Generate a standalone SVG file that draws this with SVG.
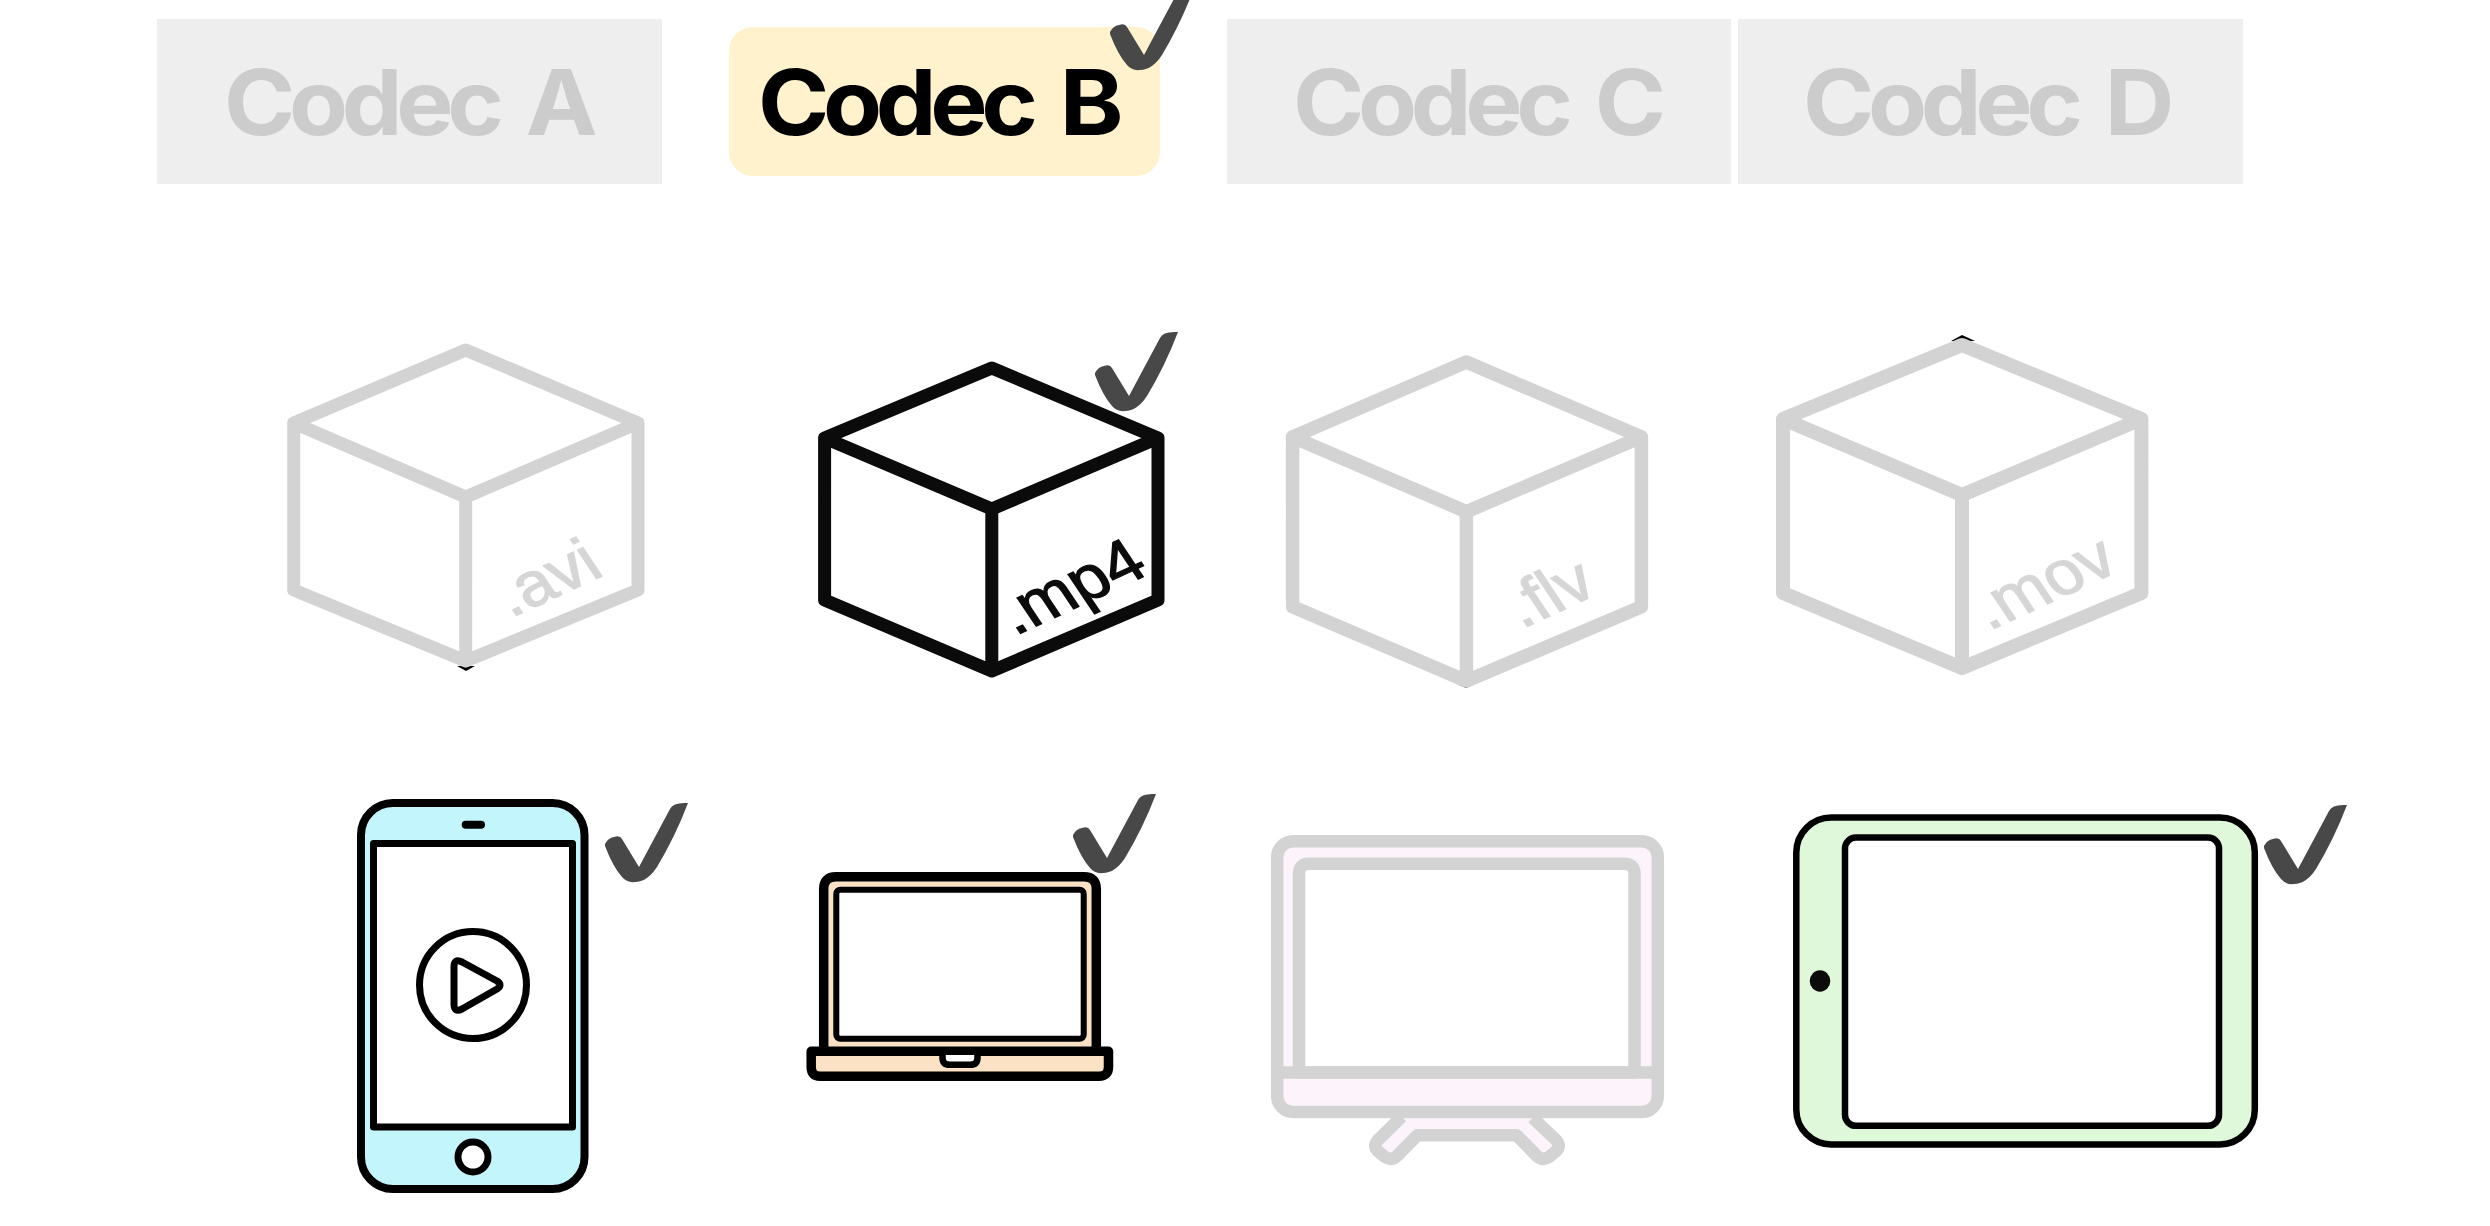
<svg xmlns="http://www.w3.org/2000/svg" xmlns:xlink="http://www.w3.org/1999/xlink" width="2490" height="1226" viewBox="0 0 2490 1226">
<style>
.bg{fill:#fff}
.tab{fill:#eeeeee}
.tl{font-family:"Inter","Liberation Sans",sans-serif;font-weight:700;font-size:91px;fill:#cccccc;letter-spacing:-6px;word-spacing:11px}
.tla{fill:#000}
.ck{fill:#484848}
.cube{fill:none;stroke-linejoin:round;stroke-linecap:round}
.off{stroke:#d3d3d3}
.on{stroke:#0b0b0b}
.ext{font-family:"Liberation Sans",Arial,sans-serif;font-size:60px;stroke-width:1.2}
.extg{fill:#d6d6d6;stroke:#d6d6d6}
.extk{fill:#0b0b0b;stroke:#0b0b0b}
.tip{fill:#000}
.k{stroke:#000;stroke-linejoin:round}
.g{stroke:#d3d3d3;stroke-linejoin:round}
</style>
<defs>
<path id="check" class="ck" d="M0,42 Q3,36 9,35 Q15,33 17,37 L34,65 Q50,35 65,7 Q68,0 83,1 Q70,35 52,65 Q42,80 30,80 Q22,81 17,75 Q8,65 0,44 Z"/>
</defs>
<rect class="bg" width="2490" height="1226"/>

<g id="tab-a"><rect class="tab" x="157" y="19" width="505" height="165"/><text class="tl" transform="translate(224 135) scale(1.06 1)">Codec A</text></g>
<g id="tab-b"><rect x="729" y="27" width="431" height="149" rx="24" fill="#fff2cc"/><text class="tl tla" transform="translate(758 135) scale(1.06 1)">Codec B</text><use xlink:href="#check" href="#check" x="1110" y="-10"/></g>
<g id="tab-c"><rect class="tab" x="1227" y="19" width="504" height="165"/><text class="tl" transform="translate(1293 135) scale(1.06 1)">Codec C</text></g>
<g id="tab-d"><rect class="tab" x="1738" y="19" width="505" height="165"/><text class="tl" transform="translate(1803 135) scale(1.06 1)">Codec D</text></g>

<g id="file-avi">
<path class="tip" d="M457,666 L475,666 L466,671 Z"/>
<path class="cube off" stroke-width="13" d="M465.7,350 L638,423 L638,590 L465.7,661 L293.7,590 L293.7,423 Z M293.7,423 L465.7,497 L638,423 M465.7,497 L465.7,661"/>
<text class="ext extg" transform="matrix(1.02 -.47 .6 .9 511 618)">.avi</text>
</g>
<g id="file-mp4">
<path class="cube on" stroke-width="13" d="M991.8,368 L1158,438 L1158,600 L991.8,671 L824.6,600 L824.6,438 Z M824.6,438 L991.8,509 L1158,438 M991.8,509 L991.8,671"/>
<text class="ext extk" transform="matrix(1.02 -.47 .6 .9 1015 636)">.mp4</text>
<use xlink:href="#check" href="#check" x="1095" y="331"/>
</g>
<g id="file-flv">
<path class="tip" d="M1459,685 L1473,685 L1466,688 Z"/>
<path class="cube off" stroke-width="13.5" d="M1466.4,362 L1641.4,437 L1641.4,606.7 L1466.4,681 L1292.6,606.7 L1292.6,437 Z M1292.6,437 L1466.4,511.7 L1641.4,437 M1466.4,511.7 L1466.4,681"/>
<text class="ext extg" transform="matrix(1.02 -.47 .6 .9 1522 629)">.flv</text>
</g>
<g id="file-mov">
<path class="tip" d="M1951,341 L1975,341 L1962,335 Z"/>
<path class="cube off" stroke-width="14" d="M1962,345 L2141.4,419 L2141.4,593 L1962,668 L1783,593 L1783,419 Z M1783,419 L1962,495 L2141.4,419 M1962,495 L1962,668"/>
<text class="ext extg" transform="matrix(1.02 -.47 .6 .9 1989 631)">.mov</text>
</g>

<g id="phone">
<rect class="k" x="361" y="803" width="223.5" height="386" rx="32" fill="#c3f5fd" stroke-width="8"/>
<rect class="k" x="373.5" y="843.5" width="199" height="283.5" fill="#fff" stroke-width="7"/>
<rect x="461.7" y="820.7" width="23.3" height="8" rx="4" fill="#000"/>
<circle class="k" cx="473" cy="985" r="53.5" fill="#fff" stroke-width="7"/>
<path class="k" fill="#fff" stroke-width="7" d="M454,967 Q454,958 462,962 L497,981 Q503,985 497,989 L462,1009 Q454,1013 454,1004 Z"/>
<circle class="k" cx="473" cy="1157" r="15" fill="#fff" stroke-width="7"/>
<use xlink:href="#check" href="#check" x="605" y="802"/>
</g>

<g id="laptop">
<path class="k" fill="#fbe2c4" stroke-width="9.5" d="M823.7,1052 L823.7,889 Q823.7,876.7 836,876.7 L1084,876.7 Q1096.3,876.7 1096.3,889 L1096.3,1052"/>
<rect class="k" x="836.3" y="889.7" width="247.4" height="149" rx="4" fill="#fff" stroke-width="6"/>
<path class="k" fill="#fbe2c4" stroke-width="9.5" d="M811.2,1051.3 L1108.5,1051.3 L1108.5,1067 Q1108.5,1076.2 1099,1076.2 L820,1076.2 Q811.2,1076.2 811.2,1067 Z"/>
<path fill="#fff" stroke="#000" stroke-width="6.5" d="M942.5,1055 L942.5,1058 Q942.5,1064.8 950,1064.8 L970,1064.8 Q977.5,1064.8 977.5,1058 L977.5,1055"/>
<use xlink:href="#check" href="#check" x="1073" y="793"/>
</g>

<g id="tv">
<path class="g" fill="#fdf3fb" stroke-width="12.5" d="M1401.7,1116.7 L1378,1140 Q1372,1147 1379,1152 L1385,1157 Q1391.7,1161 1397,1156 L1417.3,1135.3 L1516.7,1135.3 L1537,1156 Q1542.7,1161 1549,1157 L1555,1152 Q1562,1147 1556,1140 L1532.7,1117.7"/>
<rect class="g" x="1277.2" y="841.2" width="380.6" height="270.8" rx="16" fill="#fdf3fb" stroke-width="12.5"/>
<path class="g" fill="#fff" stroke-width="12.5" d="M1299,1072.4 L1299,874 Q1299,863.8 1309,863.8 L1624,863.8 Q1634.5,863.8 1634.5,874 L1634.5,1072.4 Z"/>
<path class="g" fill="none" stroke-width="12.5" d="M1277.2,1072.4 L1657.8,1072.4"/>
</g>

<g id="tablet">
<rect x="1796.3" y="817.6" width="458.5" height="326.8" rx="35" fill="#dff8da" stroke="#000" stroke-width="6.5"/>
<rect x="1845" y="837.6" width="374" height="288.2" rx="11" fill="#fff" stroke="#000" stroke-width="6.5"/>
<ellipse cx="1820" cy="981" rx="10.3" ry="10.7" fill="#0b0b0b"/>
<use xlink:href="#check" href="#check" x="2264" y="804"/>
</g>
</svg>
